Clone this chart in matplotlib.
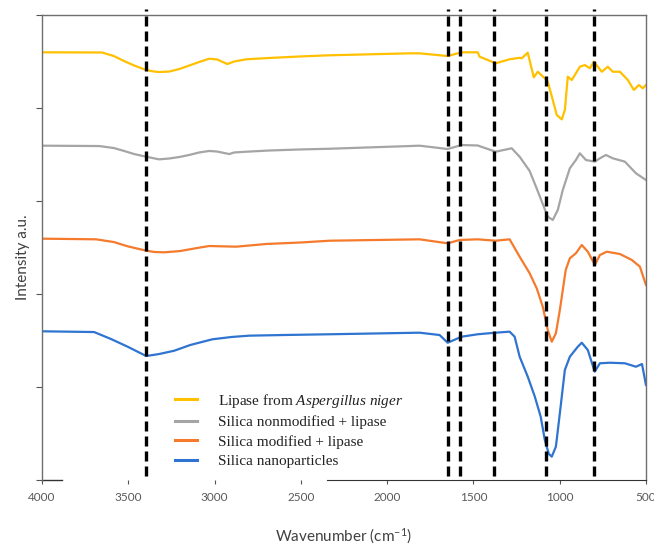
import matplotlib
matplotlib.use("Agg")
import matplotlib.pyplot as plt
import numpy as np

plt.rcParams["mathtext.fontset"] = "custom"
plt.rcParams["mathtext.it"] = "Liberation Serif:italic"
plt.rcParams["mathtext.rm"] = "Liberation Serif"

# FTIR spectra (wavenumber in cm-1, offset intensity in a.u.)
lipase_wn = [4000, 3652, 3584, 3524, 3466, 3396, 3350, 3321, 3263, 3205,
             3147, 3089, 3031, 2985, 2926, 2886, 2816, 2683, 2508, 2334,
             1870, 1812, 1649, 1568, 1475, 1464, 1371, 1290, 1232, 1220,
             1185, 1150, 1127, 1086, 1069, 1040, 1017, 988, 970, 953,
             930, 883, 854, 825, 802, 756, 721, 692, 651, 605, 570,
             541, 518, 500]
lipase_int = [4.599, 4.597, 4.559, 4.505, 4.457, 4.409, 4.392, 4.387, 4.392, 4.419,
              4.457, 4.495, 4.530, 4.522, 4.473, 4.500, 4.524, 4.538, 4.554, 4.567,
              4.588, 4.588, 4.559, 4.599, 4.599, 4.552, 4.481, 4.524, 4.540, 4.534,
              4.595, 4.330, 4.390, 4.319, 4.283, 4.086, 3.925, 3.878, 3.978, 4.337,
              4.301, 4.444, 4.462, 4.427, 4.498, 4.390, 4.444, 4.390, 4.390, 4.301, 4.194,
              4.247, 4.212, 4.247]

nonmod_wn = [4000, 3669, 3584, 3524, 3466, 3396, 3321, 3263, 3205, 3147,
             3089, 3031, 2985, 2915, 2886, 2816, 2683, 2508, 2334, 1870,
             1812, 1649, 1568, 1475, 1371, 1278, 1232, 1174, 1133, 1092,
             1069, 1040, 1011, 982, 941, 906, 883, 848, 796, 767, 732,
             692, 622, 558, 500]
nonmod_int = [3.595, 3.591, 3.570, 3.538, 3.505, 3.476, 3.448, 3.457, 3.473, 3.495,
              3.522, 3.538, 3.532, 3.505, 3.522, 3.530, 3.543, 3.554, 3.562, 3.591,
              3.595, 3.559, 3.602, 3.597, 3.530, 3.567, 3.476, 3.323, 3.134, 2.939,
              2.831, 2.796, 2.903, 3.118, 3.352, 3.441, 3.513, 3.441, 3.423, 3.459, 3.495,
              3.459, 3.423, 3.298, 3.226]

mod_wn = [4000, 3687, 3584, 3500, 3396, 3350, 3292, 3200, 3100, 3031,
          2874, 2700, 2500, 2334, 1812, 1649, 1580, 1475, 1371, 1290,
          1232, 1174, 1133, 1098, 1069, 1046, 1022, 999, 965, 941,
          906, 872, 837, 796, 767, 727, 651, 582, 535, 500]
mod_int = [2.595, 2.588, 2.559, 2.511, 2.466, 2.452, 2.448, 2.462, 2.495, 2.516,
           2.509, 2.538, 2.554, 2.573, 2.588, 2.545, 2.581, 2.588, 2.573, 2.588,
           2.401, 2.223, 2.061, 1.863, 1.613, 1.487, 1.577, 1.828, 2.258, 2.384,
           2.438, 2.527, 2.455, 2.312, 2.419, 2.455, 2.430, 2.366, 2.294, 2.097]

nano_wn = [4000, 3698, 3600, 3500, 3396, 3320, 3234, 3140, 3013, 2900,
           2799, 2600, 2334, 1812, 1696, 1649, 1568, 1475, 1371, 1290,
           1261, 1232, 1185, 1144, 1110, 1086, 1063, 1046, 1022, 999,
           970, 941, 895, 872, 837, 797, 767, 709, 622, 558, 523, 500]
nano_int = [1.599, 1.591, 1.516, 1.430, 1.333, 1.355, 1.390, 1.452, 1.513, 1.538,
            1.552, 1.559, 1.567, 1.584, 1.559, 1.476, 1.541, 1.567, 1.584, 1.595,
            1.541, 1.326, 1.111, 0.896, 0.681, 0.430, 0.280, 0.251, 0.358, 0.717,
            1.183, 1.326, 1.433, 1.476, 1.398, 1.165, 1.255, 1.261, 1.255, 1.218, 1.247,
            1.022]

# band positions marked with dashed lines
bands = [3400, 1650, 1580, 1380, 1080, 800]

series = [
    (lipase_wn, lipase_int, "#FFC000", r"Lipase from $\it{Aspergillus\ niger}$"),
    (nonmod_wn, nonmod_int, "#A5A5A5", "Silica nonmodified + lipase"),
    (mod_wn, mod_int, "#F57A2C", "Silica modified + lipase"),
    (nano_wn, nano_int, "#2F74D0", "Silica nanoparticles"),
]

fig = plt.figure(figsize=(6.54, 5.48), dpi=100)
ax = fig.add_axes([0.0642, 0.1241, 0.9235, 0.8485])

for wn, inten, col, lab in series:
    ax.plot(wn, inten, color=col, lw=1.6, label=lab, zorder=2,
            solid_joinstyle="round")

for b in bands:
    ax.axvline(b, ymin=0.008, ymax=1.013, color="black", lw=2.4,
               dashes=(3.0, 1.5), clip_on=False, zorder=3)

ax.set_xlim(4000, 500)
ax.set_ylim(0, 5)
ax.set_xticks(np.arange(4000, 499, -500))
ax.set_yticks(np.arange(0, 6, 1))
ax.set_yticklabels([])
ax.tick_params(axis="x", direction="out", length=3, pad=6, colors="#555555",
               labelsize=8.5, labelcolor="#595959")
ax.tick_params(axis="y", direction="out", length=4, colors="#555555")
for lab in ax.get_xticklabels():
    lab.set_family("Lato")

for side in ["left", "top", "right"]:
    ax.spines[side].set_color("#6f6f6f")
    ax.spines[side].set_linewidth(1.0)
ax.spines["bottom"].set_color("#333333")
ax.spines["bottom"].set_bounds(2346, 500)
ax.plot([4000, 3884], [0, 0], color="#333333", lw=1.0,
        transform=ax.get_xaxis_transform(), clip_on=False)

ax.set_xlabel(r"Wavenumber (cm$\mathregular{^{-1}}$)", family="Lato",
              fontsize=11, color="#404040")
ax.xaxis.set_label_coords(0.5, -0.1)
ax.set_ylabel("Intensity a.u.", family="Lato", fontsize=11, color="#404040")
ax.yaxis.set_label_coords(-0.02, 0.48)

leg = ax.legend(loc="upper left", bbox_to_anchor=(0.22, 0.19), frameon=False,
                borderpad=0, borderaxespad=0, handlelength=1.45,
                handletextpad=1.35, labelspacing=0.38,
                prop={"family": "Liberation Serif", "size": 11})
for t in leg.get_texts():
    t.set_color("#222222")
for h in leg.get_lines():
    h.set_linewidth(2.2)

fig.savefig("out.png", dpi=100)
